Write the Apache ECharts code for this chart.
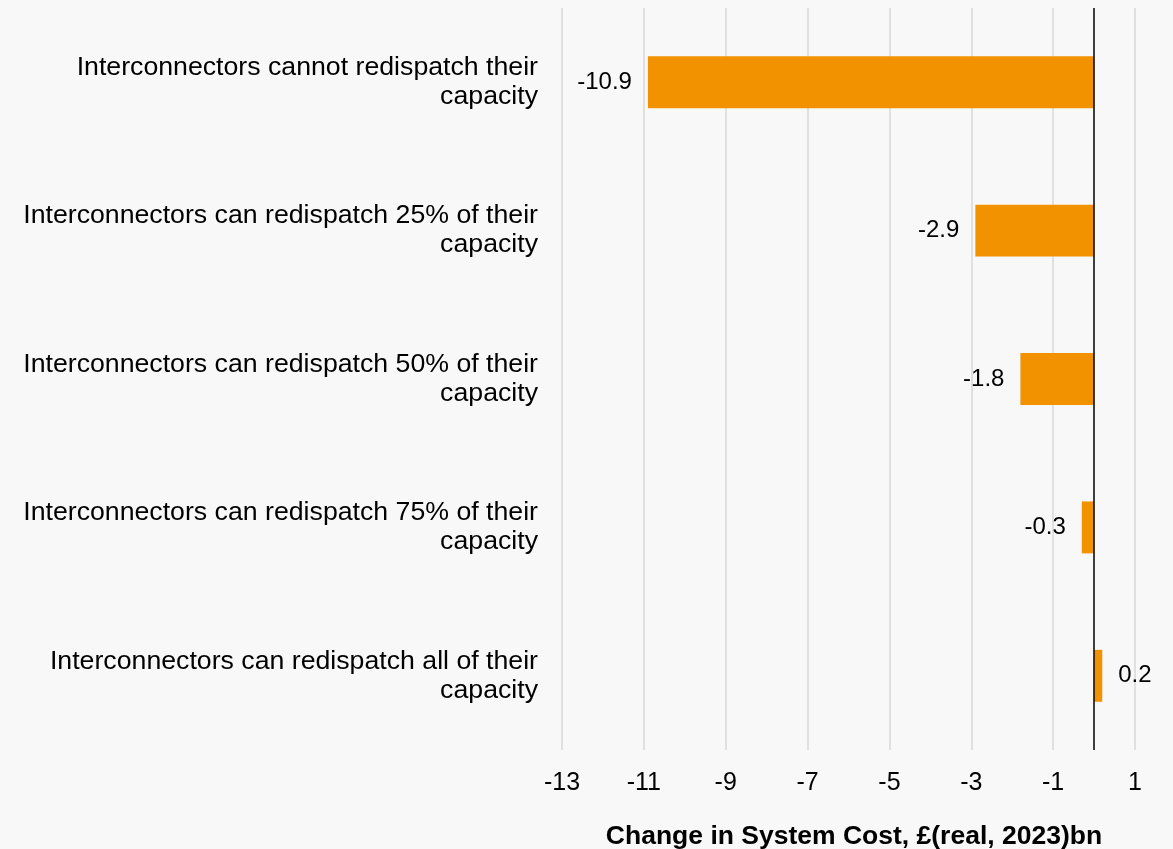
<!DOCTYPE html>
<html>
<head>
<meta charset="utf-8">
<script src="https://cdn.jsdelivr.net/npm/echarts@6/dist/echarts.min.js"></script>
<style>
  html, body { margin: 0; padding: 0; background: #f8f8f8; }
  #chart { width: 1173px; height: 849px; }
</style>
</head>
<body>
<div id="chart"></div>
<script>
const categories = [
    'Interconnectors cannot redispatch their\ncapacity',
    'Interconnectors can redispatch 25% of their\ncapacity',
    'Interconnectors can redispatch 50% of their\ncapacity',
    'Interconnectors can redispatch 75% of their\ncapacity',
    'Interconnectors can redispatch all of their\ncapacity'
];
const costChange = [-10.9, -2.9, -1.8, -0.3, 0.2];
const axisName = 'Change in System Cost, £(real, 2023)bn';

const chart = echarts.init(document.getElementById('chart'));

const option = {
    backgroundColor: '#f8f8f8',
    animation: false,
    textStyle: { fontFamily: 'Liberation Sans, Arial, sans-serif' },
    grid: { left: 562, right: 38, top: 8, bottom: 99 },
    title: {
        text: axisName,
        left: 849,
        top: 818,
        textAlign: 'center',
        textStyle: { fontSize: 26.5, fontWeight: 'bold', color: '#000', fontFamily: 'Liberation Sans, Arial, sans-serif' }
    },
    xAxis: {
        type: 'value',
        min: -13,
        max: 1,
        interval: 2,
        axisLine: { show: false },
        axisTick: { show: false },
        axisLabel: { fontSize: 25, color: '#000', margin: 21 },
        splitLine: { lineStyle: { color: '#d9d9d9', width: 1.5 } }
    },
    yAxis: {
        type: 'category',
        data: categories,
        inverse: true,
        axisLine: { show: false },
        axisTick: { show: false },
        axisLabel: {
            fontSize: 26.7,
            color: '#000',
            lineHeight: 29,
            align: 'right',
            margin: 24,
            padding: [4, 0, 0, 0]
        }
    },
    series: [{
        type: 'bar',
        data: costChange.map(function (v) {
            return {
                value: v,
                label: { position: v < 0 ? 'left' : 'right' }
            };
        }),
        barWidth: '35%',
        itemStyle: { color: '#f39200' },
        label: {
            show: true,
            fontSize: 24,
            color: '#000',
            distance: 16
        },
        markLine: {
            silent: true,
            symbol: 'none',
            label: { show: false },
            lineStyle: { color: '#000', width: 1.5, type: 'solid' },
            data: [{ xAxis: 0 }]
        }
    }]
};

chart.setOption(option);
</script>
</body>
</html>
